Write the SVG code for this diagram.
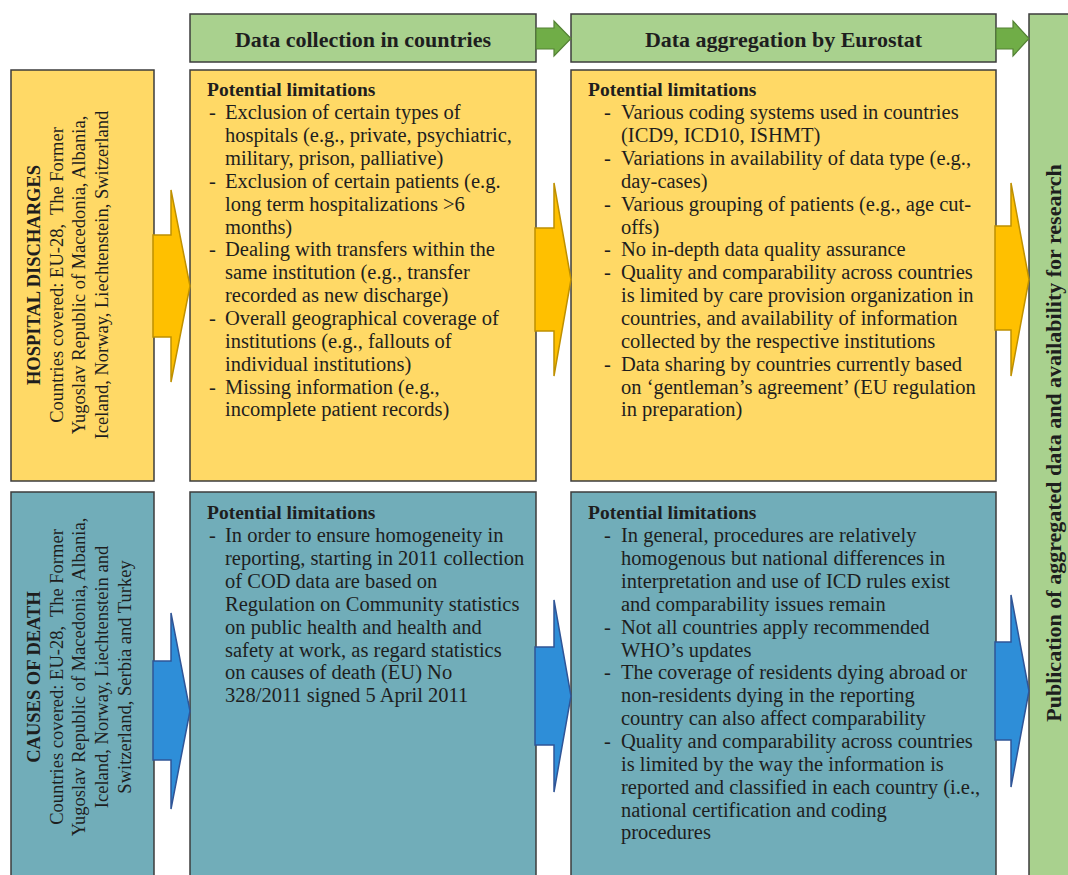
<svg xmlns="http://www.w3.org/2000/svg" width="1068" height="875" viewBox="0 0 1068 875">
<style>
.by{fill:#ffd966;stroke:#3c3c3c;stroke-width:1.5}
.bt{fill:#71adb9;stroke:#3c3c3c;stroke-width:1.5}
.bg{fill:#a9d18e;stroke:#3c3c3c;stroke-width:1.5}
.ay{fill:#ffc000;stroke:#bf9000;stroke-width:1.5;stroke-linejoin:miter}
.ab{fill:#2e8ed8;stroke:#2f5597;stroke-width:1.5}
.ag{fill:#70ad47;stroke:#548235;stroke-width:1.2}
text{font-family:"Liberation Serif","Times New Roman",serif;fill:#1e1e1e}
.body{font-size:20.5px}
.pl{font-size:19.5px;font-weight:bold}
.hd{font-size:22px;font-weight:bold;text-anchor:middle}
.side{font-size:18.5px;text-anchor:middle}
.sideb{font-size:18.5px;font-weight:bold;text-anchor:middle}
</style>
<rect width="1068" height="875" fill="#ffffff"/>

<g id="header-collection">
<rect class="bg" x="190" y="14" width="346" height="48"/>
<text class="hd" x="363" y="47">Data collection in countries</text>
</g>
<g id="header-aggregation">
<rect class="bg" x="571" y="14" width="425" height="48"/>
<text class="hd" x="783.5" y="47">Data aggregation by Eurostat</text>
</g>
<g id="publication">
<rect class="bg" x="1029" y="14" width="50" height="875"/>
<text class="hd" transform="translate(1061,443) rotate(-90)">Publication of aggregated data and availability for research</text>
</g>

<g id="hospital-discharges">
<rect class="by" x="11" y="70" width="143" height="411"/>
<text class="sideb" transform="translate(40,275) rotate(-90)">HOSPITAL DISCHARGES</text>
<text class="side" xml:space="preserve" transform="translate(63,275) rotate(-90)">Countries covered: EU-28,  The Former</text>
<text class="side" transform="translate(85,275) rotate(-90)">Yugoslav Republic of Macedonia, Albania,</text>
<text class="side" transform="translate(108,275) rotate(-90)">Iceland, Norway, Liechtenstein, Switzerland</text>
</g>

<g id="hd-collection">
<rect class="by" x="190" y="70" width="346" height="411"/>
<text class="pl" x="207" y="96">Potential limitations</text>
<text class="body" y="96.5">
<tspan x="209" dy="22.85">-</tspan><tspan x="225">Exclusion of certain types of</tspan>
<tspan x="225" dy="22.85">hospitals (e.g., private, psychiatric,</tspan>
<tspan x="225" dy="22.85">military, prison, palliative)</tspan>
<tspan x="209" dy="22.85">-</tspan><tspan x="225">Exclusion of certain patients (e.g.</tspan>
<tspan x="225" dy="22.85">long term hospitalizations &gt;6</tspan>
<tspan x="225" dy="22.85">months)</tspan>
<tspan x="209" dy="22.85">-</tspan><tspan x="225">Dealing with transfers within the</tspan>
<tspan x="225" dy="22.85">same institution (e.g., transfer</tspan>
<tspan x="225" dy="22.85">recorded as new discharge)</tspan>
<tspan x="209" dy="22.85">-</tspan><tspan x="225">Overall geographical coverage of</tspan>
<tspan x="225" dy="22.85">institutions (e.g., fallouts of</tspan>
<tspan x="225" dy="22.85">individual institutions)</tspan>
<tspan x="209" dy="22.85">-</tspan><tspan x="225">Missing information (e.g.,</tspan>
<tspan x="225" dy="22.85">incomplete patient records)</tspan>
</text>
</g>

<g id="hd-aggregation">
<rect class="by" x="571" y="70" width="425" height="411"/>
<text class="pl" x="588" y="96">Potential limitations</text>
<text class="body" y="96.5">
<tspan x="604" dy="22.85">-</tspan><tspan x="621">Various coding systems used in countries</tspan>
<tspan x="621" dy="22.85">(ICD9, ICD10, ISHMT)</tspan>
<tspan x="604" dy="22.85">-</tspan><tspan x="621">Variations in availability of data type (e.g.,</tspan>
<tspan x="621" dy="22.85">day-cases)</tspan>
<tspan x="604" dy="22.85">-</tspan><tspan x="621">Various grouping of patients (e.g., age cut-</tspan>
<tspan x="621" dy="22.85">offs)</tspan>
<tspan x="604" dy="22.85">-</tspan><tspan x="621">No in-depth data quality assurance</tspan>
<tspan x="604" dy="22.85">-</tspan><tspan x="621">Quality and comparability across countries</tspan>
<tspan x="621" dy="22.85">is limited by care provision organization in</tspan>
<tspan x="621" dy="22.85">countries, and availability of information</tspan>
<tspan x="621" dy="22.85">collected by the respective institutions</tspan>
<tspan x="604" dy="22.85">-</tspan><tspan x="621">Data sharing by countries currently based</tspan>
<tspan x="621" dy="22.85">on ‘gentleman’s agreement’ (EU regulation</tspan>
<tspan x="621" dy="22.85">in preparation)</tspan>
</text>
</g>

<g id="causes-of-death">
<rect class="bt" x="11" y="492" width="143" height="400"/>
<text class="sideb" transform="translate(40,677) rotate(-90)">CAUSES OF DEATH</text>
<text class="side" xml:space="preserve" transform="translate(63,677) rotate(-90)">Countries covered: EU-28,  The Former</text>
<text class="side" transform="translate(85,677) rotate(-90)">Yugoslav Republic of Macedonia, Albania,</text>
<text class="side" transform="translate(108,677) rotate(-90)">Iceland, Norway, Liechtenstein and</text>
<text class="side" transform="translate(131,677) rotate(-90)">Switzerland, Serbia and Turkey</text>
</g>

<g id="cod-collection">
<rect class="bt" x="190" y="492" width="346" height="400"/>
<text class="pl" x="207" y="519">Potential limitations</text>
<text class="body" y="519.5">
<tspan x="209" dy="22.85">-</tspan><tspan x="225">In order to ensure homogeneity in</tspan>
<tspan x="225" dy="22.85">reporting, starting in 2011 collection</tspan>
<tspan x="225" dy="22.85">of COD data are based on</tspan>
<tspan x="225" dy="22.85">Regulation on Community statistics</tspan>
<tspan x="225" dy="22.85">on public health and health and</tspan>
<tspan x="225" dy="22.85">safety at work, as regard statistics</tspan>
<tspan x="225" dy="22.85">on causes of death (EU) No</tspan>
<tspan x="225" dy="22.85">328/2011 signed 5 April 2011</tspan>
</text>
</g>

<g id="cod-aggregation">
<rect class="bt" x="571" y="492" width="425" height="400"/>
<text class="pl" x="588" y="519">Potential limitations</text>
<text class="body" y="519.5">
<tspan x="604" dy="22.85">-</tspan><tspan x="621">In general, procedures are relatively</tspan>
<tspan x="621" dy="22.85">homogenous but national differences in</tspan>
<tspan x="621" dy="22.85">interpretation and use of ICD rules exist</tspan>
<tspan x="621" dy="22.85">and comparability issues remain</tspan>
<tspan x="604" dy="22.85">-</tspan><tspan x="621">Not all countries apply recommended</tspan>
<tspan x="621" dy="22.85">WHO’s updates</tspan>
<tspan x="604" dy="22.85">-</tspan><tspan x="621">The coverage of residents dying abroad or</tspan>
<tspan x="621" dy="22.85">non-residents dying in the reporting</tspan>
<tspan x="621" dy="22.85">country can also affect comparability</tspan>
<tspan x="604" dy="22.85">-</tspan><tspan x="621">Quality and comparability across countries</tspan>
<tspan x="621" dy="22.85">is limited by the way the information is</tspan>
<tspan x="621" dy="22.85">reported and classified in each country (i.e.,</tspan>
<tspan x="621" dy="22.85">national certification and coding</tspan>
<tspan x="621" dy="22.85">procedures</tspan>
</text>
</g>

<g id="connectors">
<polygon class="ag" points="536,28 554,28 554,21 571,38.5 554,56 554,49 536,49"/>
<polygon class="ag" points="996,28 1013,28 1013,21 1029,38.5 1013,56 1013,49 996,49"/>
<polygon class="ay" points="153,235 171,235 171,190 190,286 171,382 171,337 153,337"/>
<polygon class="ay" points="535,228 554,228 554,183 571,279.5 554,376 554,331 535,331"/>
<polygon class="ay" points="995,226 1011,226 1011,183 1029,279.5 1011,376 1011,330 995,330"/>
<polygon class="ab" points="153,661 171,661 171,613 190,711 171,809 171,760 153,760"/>
<polygon class="ab" points="535,647 554,647 554,600 571,696 554,792 554,745 535,745"/>
<polygon class="ab" points="995,642 1011,642 1011,595 1029,691 1011,787 1011,740 995,740"/>
</g>
</svg>
